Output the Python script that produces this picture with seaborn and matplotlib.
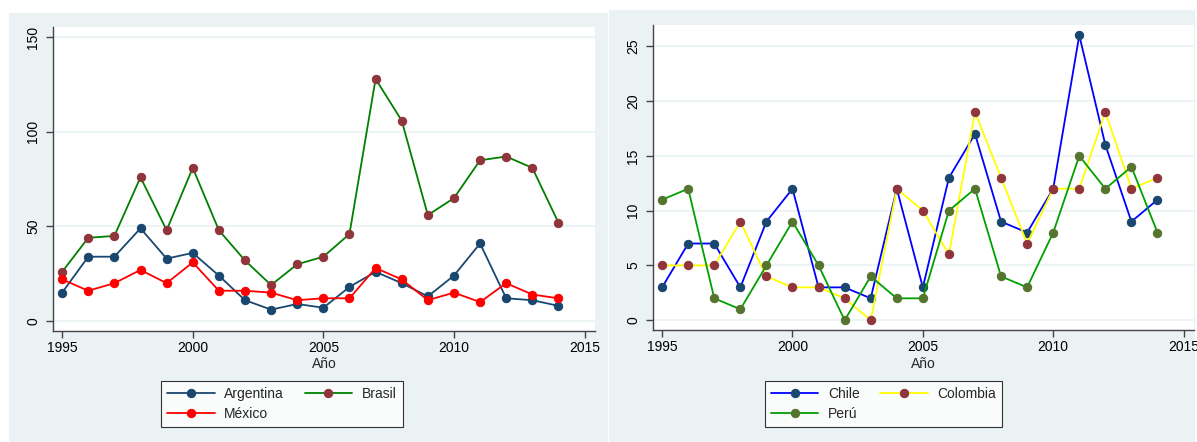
import matplotlib
matplotlib.use("Agg")
import matplotlib.pyplot as plt
from matplotlib.patches import Rectangle
import seaborn as sns
import pandas as pd

# Data
years = list(range(1995, 2015))

argentina = [15, 34, 34, 49, 33, 36, 24, 11, 6, 9, 7, 18, 26, 20, 13, 24, 41, 12, 11, 8]
brasil = [26, 44, 45, 76, 48, 81, 48, 32, 19, 30, 34, 46, 128, 106, 56, 65, 85, 87, 81, 52]
mexico = [22, 16, 20, 27, 20, 31, 16, 16, 15, 11, 12, 12, 28, 22, 11, 15, 10, 20, 14, 12]

chile = [3, 7, 7, 3, 9, 12, 3, 3, 2, 12, 3, 13, 17, 9, 8, 12, 26, 16, 9, 11]
colombia = [5, 5, 5, 9, 4, 3, 3, 2, 0, 12, 10, 6, 19, 13, 7, 12, 12, 19, 12, 13]
peru = [11, 12, 2, 1, 5, 9, 5, 0, 4, 2, 2, 10, 12, 4, 3, 8, 15, 12, 14, 8]

left_names = ["Argentina", "Brasil", "México"]
right_names = ["Chile", "Colombia", "Perú"]
left_ticks = [0, 50, 100, 150]
right_ticks = [0, 5, 10, 15, 20, 25]
x_ticks = [1995, 2000, 2005, 2010, 2015]

# Stata s2color-ish colours: (line colour, marker colour)
navy = "#1A476F"
maroon = "#90353B"
olive = "#55752F"
left_styles = [(navy, navy), ("#008000", maroon), ("#FF0000", "#FF0000")]
right_styles = [("#0000FF", navy), ("#FFFF00", maroon), ("#00A000", olive)]
bg = "#EAF2F3"

sns.set_theme(style="white")
plt.rcParams["font.family"] = ["Liberation Sans", "DejaVu Sans"]
plt.rcParams["font.size"] = 10

W, H = 1197, 442
fig = plt.figure(figsize=(W / 100, H / 100), dpi=100)

# graph region backgrounds
fig.add_artist(Rectangle((9 / W, 0), 599 / W, (H - 13) / H, transform=fig.transFigure,
                         facecolor=bg, edgecolor="none", zorder=-1))
fig.add_artist(Rectangle((609 / W, 0), 586 / W, (H - 10) / H, transform=fig.transFigure,
                         facecolor=bg, edgecolor="none", zorder=-1))


def make_axes(x0, x1, y0, y1):
    return fig.add_axes([x0 / W, 1 - y1 / H, (x1 - x0) / W, (y1 - y0) / H])


ax1 = make_axes(53, 595, 27, 331)
ax2 = make_axes(653, 1194, 25, 330)


def draw(ax, names, series, styles, yticks, ylim, legend_x):
    for name, vals, (lc, mc) in zip(names, series, styles):
        df = pd.DataFrame({"Año": years, "n": vals})
        sns.lineplot(data=df, x="Año", y="n", ax=ax, color=lc, linewidth=1.3,
                     marker="o", markersize=6, markerfacecolor=mc,
                     markeredgecolor=mc, label=name, legend=False)
    ax.set_xlim(1994.65, 2015.4)
    ax.set_ylim(*ylim)
    ax.set_xticks(x_ticks)
    ax.set_yticks(yticks)
    ax.set_yticklabels([str(t) for t in yticks], rotation=90, va="center")
    ax.set_xlabel("Año", fontsize=10, labelpad=2)
    ax.set_ylabel("")
    ax.grid(axis="y", color=bg, linewidth=1.2)
    ax.grid(axis="x", visible=False)
    ax.set_axisbelow(True)
    for s in ["top", "right"]:
        ax.spines[s].set_visible(False)
    for s in ["left", "bottom"]:
        ax.spines[s].set_color("#444444")
        ax.spines[s].set_linewidth(1.0)
    ax.tick_params(axis="both", which="major", direction="out", length=5, width=1,
                   color="#444444", labelsize=10, labelcolor="black",
                   bottom=True, left=True)
    ax.tick_params(axis="y", pad=4)
    ax.tick_params(axis="x", pad=2)
    ax.set_facecolor("white")

    handles = ax.get_lines()[:3]
    order = [0, 2, 1]
    leg = fig.legend([handles[i] for i in order], [names[i] for i in order],
                     loc="center", bbox_to_anchor=(legend_x, 1 - 404 / H), ncol=2,
                     frameon=True, fancybox=False, handlelength=3.4, handletextpad=0.7,
                     columnspacing=1.5, fontsize=10, borderpad=0.45, labelspacing=0.45)
    leg.get_frame().set_edgecolor("black")
    leg.get_frame().set_linewidth(0.8)
    leg.get_frame().set_facecolor("white")


draw(ax1, left_names, [argentina, brasil, mexico], left_styles, left_ticks,
     (-5.3, 155.5), 282 / W)
draw(ax2, right_names, [chile, colombia, peru], right_styles, right_ticks,
     (-0.89, 26.94), 883.5 / W)

fig.savefig("out.png", dpi=100, facecolor="white")
